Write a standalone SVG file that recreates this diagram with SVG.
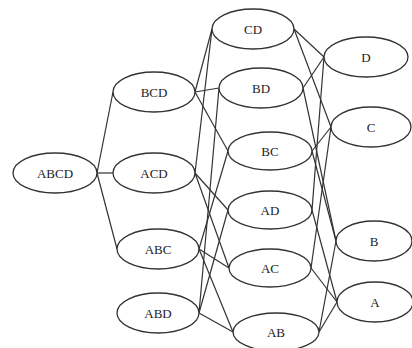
<svg xmlns="http://www.w3.org/2000/svg" width="412" height="348" viewBox="0 0 412 348">
<style>
.n ellipse{fill:#fff;stroke:#333;stroke-width:1.3}
.n text{font-family:"Liberation Serif","Times New Roman",serif;font-size:13px;fill:#222;text-anchor:middle;dominant-baseline:central}
#edges line{stroke:#333;stroke-width:1.2}
</style>
<rect width="412" height="348" fill="#fff"/>
<g id="edges">
<line x1="97" y1="173" x2="113" y2="92"/>
<line x1="97" y1="173" x2="113" y2="173"/>
<line x1="97" y1="173" x2="117" y2="249"/>
<line x1="195" y1="92" x2="212" y2="29"/>
<line x1="195" y1="92" x2="219" y2="88"/>
<line x1="195" y1="92" x2="228" y2="151"/>
<line x1="195" y1="173" x2="212" y2="29"/>
<line x1="195" y1="173" x2="228" y2="210"/>
<line x1="195" y1="173" x2="229" y2="268"/>
<line x1="199" y1="249" x2="228" y2="151"/>
<line x1="199" y1="249" x2="229" y2="268"/>
<line x1="199" y1="249" x2="233" y2="332"/>
<line x1="199" y1="313" x2="219" y2="88"/>
<line x1="199" y1="313" x2="228" y2="210"/>
<line x1="199" y1="313" x2="233" y2="332"/>
<line x1="294" y1="29" x2="324" y2="57"/>
<line x1="294" y1="29" x2="331" y2="127"/>
<line x1="303" y1="88" x2="324" y2="57"/>
<line x1="303" y1="88" x2="336" y2="241"/>
<line x1="312" y1="151" x2="331" y2="127"/>
<line x1="312" y1="151" x2="336" y2="241"/>
<line x1="312" y1="210" x2="324" y2="57"/>
<line x1="312" y1="210" x2="337" y2="302"/>
<line x1="311" y1="268" x2="331" y2="127"/>
<line x1="311" y1="268" x2="337" y2="302"/>
<line x1="319" y1="332" x2="336" y2="241"/>
<line x1="319" y1="332" x2="337" y2="302"/>
</g>
<g id="ABCD" class="n"><ellipse cx="55" cy="173" rx="42" ry="20"/><text x="55" y="173">ABCD</text></g>
<g id="BCD" class="n"><ellipse cx="154" cy="92" rx="41" ry="20"/><text x="154" y="92">BCD</text></g>
<g id="ACD" class="n"><ellipse cx="154" cy="173" rx="41" ry="20"/><text x="154" y="173">ACD</text></g>
<g id="ABC" class="n"><ellipse cx="158" cy="249" rx="41" ry="20"/><text x="158" y="249">ABC</text></g>
<g id="ABD" class="n"><ellipse cx="158" cy="313" rx="41" ry="20"/><text x="158" y="313">ABD</text></g>
<g id="CD" class="n"><ellipse cx="253" cy="29" rx="41" ry="20"/><text x="253" y="29">CD</text></g>
<g id="BD" class="n"><ellipse cx="261" cy="88" rx="42" ry="20"/><text x="261" y="88">BD</text></g>
<g id="BC" class="n"><ellipse cx="270" cy="151" rx="42" ry="19"/><text x="270" y="151">BC</text></g>
<g id="AD" class="n"><ellipse cx="270" cy="210" rx="42" ry="19"/><text x="270" y="210">AD</text></g>
<g id="AC" class="n"><ellipse cx="270" cy="268" rx="41" ry="19"/><text x="270" y="268">AC</text></g>
<g id="AB" class="n"><ellipse cx="276" cy="332" rx="43" ry="19"/><text x="276" y="332">AB</text></g>
<g id="D" class="n"><ellipse cx="366" cy="57" rx="42" ry="20"/><text x="366" y="57">D</text></g>
<g id="C" class="n"><ellipse cx="371" cy="127" rx="40" ry="20"/><text x="371" y="127">C</text></g>
<g id="B" class="n"><ellipse cx="374" cy="241" rx="38" ry="20"/><text x="374" y="241">B</text></g>
<g id="A" class="n"><ellipse cx="375" cy="302" rx="38" ry="20"/><text x="375" y="302">A</text></g>
</svg>
